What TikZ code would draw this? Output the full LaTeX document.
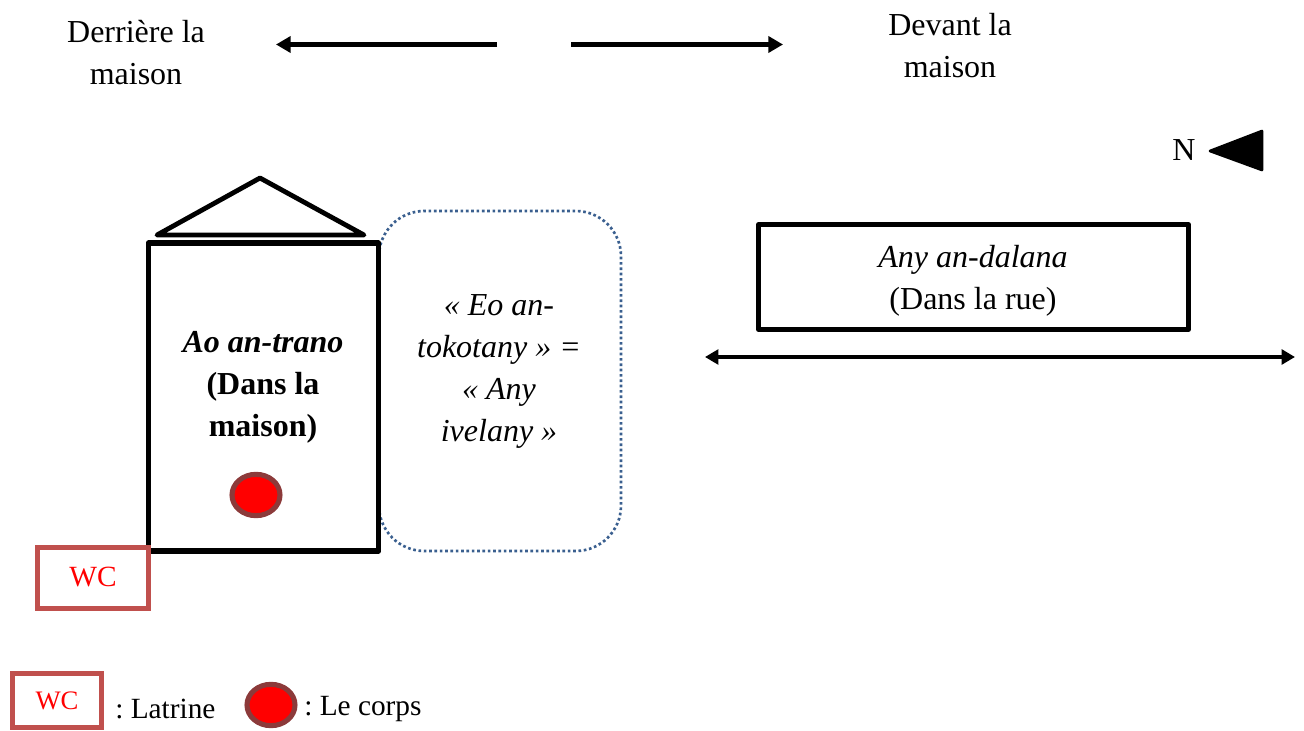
\documentclass[tikz,border=0pt]{standalone}
\usepackage{fontspec}
\setmainfont{Liberation Serif}
\usetikzlibrary{arrows.meta}
\usetikzlibrary{shapes.geometric}
\usetikzlibrary{positioning}
\begin{document}
\frenchspacing
\begin{tikzpicture}[x=0.75pt, y=-0.75pt, txt/.style={inner sep=0,align=center,font=\fontsize{24}{31.5}\selectfont},
	small txt/.style={inner sep=0,anchor=west,font=\fontsize{22}{26}\selectfont},
	thick box/.style={draw=black,line width=3.8pt,line join=round},
	wcbox/.style={draw=wcred,line width=3.6pt,fill=white,font=\fontsize{22}{24}\selectfont,text=red},
	corps/.style={draw=corpsred,line width=3.8pt,fill=red,ellipse,minimum width=36pt,minimum height=31pt,inner sep=0},
	bigarrow/.style={line width=3.8pt,-{Triangle[length=11pt,width=12pt]}}]
\definecolor{wcred}{HTML}{C0504D}
\definecolor{corpsred}{HTML}{8C3A3A}
\definecolor{dotblue}{HTML}{3A5F8F}
\useasboundingbox (0, 0) rectangle (1304, 731);
\node[txt] (0) at (136, 53) {Derrière la\\maison};
\node[txt] (1) at (950, 46) {Devant la\\maison};
\coordinate (2) at (497, 44.5);
\coordinate (3) at (276, 44.5);
\coordinate (4) at (571, 44.5);
\coordinate (5) at (783, 44.5);
\draw[bigarrow] (2) to (3);
\draw[bigarrow] (4) to (5);
\node[txt] (6) at (1184, 150) {N};
\coordinate (7) at (1210, 151);
\coordinate (8) at (1262, 131);
\coordinate (9) at (1262, 170);
\draw[fill=black,line width=2pt,line join=round] (7) -- (8) -- (9) -- cycle;
\draw[dotted,draw=dotblue,line width=2pt,rounded corners=34pt] (379, 211) rectangle (621, 551);
\node[thick box,minimum width=173pt,minimum height=231pt,inner sep=0] (house) at (263.5, 397) {};
\coordinate (10) at (157, 235);
\coordinate (11) at (260, 178);
\coordinate (12) at (364, 235);
\draw[line width=3.6pt,line join=round,line cap=round] (10) -- (11) -- (12) -- cycle;
\node[txt] (13) at (263, 387) {\textbf{\textit{Ao an-trano}}\\\textbf{(Dans la}\\\textbf{maison)}};
\node[corps] (14) at (256, 495) {};
\node[wcbox,minimum width=83pt,minimum height=46pt,inner sep=0] (15) at (93, 578) {\raisebox{1.5pt}{WC}};
\node[txt] (16) at (499, 371) {\textit{« Eo an-}\\\textit{tokotany » =}\\\textit{« Any}\\\textit{ivelany »}};
\node[thick box,minimum width=322pt,minimum height=79pt,inner sep=0] (road) at (973.5, 277) {};
\node[txt] (17) at (973, 281) {\textit{Any an-dalana}\\(Dans la rue)};
\coordinate (18) at (705, 357);
\coordinate (19) at (1295, 357);
\draw[line width=2.6pt,{Triangle[length=10pt,width=11pt]}-{Triangle[length=10pt,width=11pt]}] (18) to (19);
\node[wcbox,minimum width=67pt,minimum height=41pt,inner sep=0,font=\fontsize{20}{24}\selectfont] (20) at (57, 700.5) {\raisebox{-1pt}{WC}};
\node[small txt] (21) at (115, 709) {: Latrine};
\node[corps] (22) at (271, 705) {};
\node[small txt] (23) at (304, 709) {: Le corps};
\end{tikzpicture}
\end{document}
